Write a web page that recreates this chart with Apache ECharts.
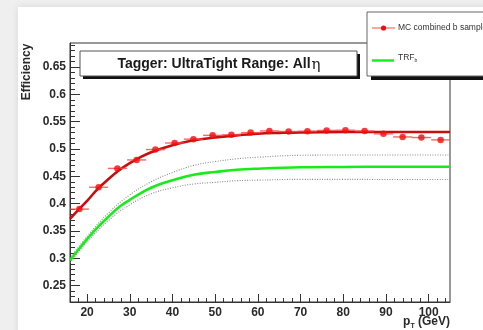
<!DOCTYPE html>
<html>
<head>
<meta charset="utf-8">
<script src="https://cdn.jsdelivr.net/npm/echarts@6/dist/echarts.min.js"></script>
<style>
  html, body { margin: 0; padding: 0; background: #efefef; overflow: hidden; }
  #card { position: absolute; left: 18px; top: 7px; width: 520px; height: 360px; background: #fff;
          box-shadow: 0 0 7px rgba(0,0,0,0.10); }
  #chart { position: absolute; left: 0; top: 0; width: 483px; height: 330px; }
</style>
</head>
<body>
<div id="card"></div>
<div id="chart"></div>
<script>
// Measured b-tagging efficiency per pT bin (bin centre, efficiency, half bin width)
const binCenters = [18.2, 22.7, 27.1, 31.6, 36.0, 40.5, 44.9, 49.4, 53.8, 58.3,
                    62.7, 67.2, 71.6, 76.1, 80.5, 85.0, 89.4, 93.9, 98.3, 102.8];
const mcEff = [0.390, 0.430, 0.4645, 0.480, 0.499, 0.511, 0.518, 0.525, 0.526, 0.530,
               0.533, 0.532, 0.5326, 0.534, 0.5344, 0.533, 0.5277, 0.5221, 0.521, 0.5167];
const binHalfWidth = [2.225, 2.225, 2.225, 2.225, 2.225, 2.225, 2.225, 2.225, 2.225, 2.225,
                      2.225, 2.225, 2.225, 2.225, 2.225, 2.225, 2.225, 2.225, 2.225, 2.225];

// Fit to the MC sample
const fitPt  = [16, 18, 20, 22.5, 25, 27.5, 30, 32.5, 35, 37.5, 40, 45, 50, 55, 60, 65, 70, 80, 90, 105];
const fitEff = [0.372, 0.389, 0.405, 0.427, 0.445, 0.461, 0.474, 0.485, 0.494, 0.501,
                0.507, 0.516, 0.521, 0.525, 0.528, 0.5295, 0.5305, 0.531, 0.531, 0.531];

// TRF_b prediction with its uncertainty band
const trfPt   = [16, 18, 20, 22.5, 25, 27.5, 30, 32.5, 35, 37.5, 40, 45, 50, 55, 60, 70, 80, 90, 105];
const trfEff  = [0.296, 0.316, 0.335, 0.357, 0.376, 0.394, 0.407, 0.419, 0.429, 0.437,
                 0.443, 0.453, 0.458, 0.462, 0.464, 0.4665, 0.4672, 0.4675, 0.4676];
const bandPt   = [16, 20, 25, 30, 35, 40, 45, 50, 55, 60, 70, 80, 90, 105];
const bandUp   = [0.300, 0.340, 0.383, 0.416, 0.440, 0.457, 0.470, 0.477, 0.482, 0.485, 0.4885, 0.489, 0.489, 0.4891];
const bandDown = [0.292, 0.330, 0.369, 0.398, 0.418, 0.429, 0.436, 0.439, 0.442, 0.443, 0.4445, 0.4444, 0.4443, 0.4443];

// Axis ticks
const xMajorTicks = [20, 30, 40, 50, 60, 70, 80, 90, 100];
const xMinorTicks = [16, 18, 22, 24, 26, 28, 32, 34, 36, 38, 42, 44, 46, 48, 52, 54, 56, 58,
                     62, 64, 66, 68, 72, 74, 76, 78, 82, 84, 86, 88, 92, 94, 96, 98, 102, 104];
const yMajorTicks = [0.25, 0.3, 0.35, 0.4, 0.45, 0.5, 0.55, 0.6, 0.65];
const yMinorTicks = [0.23, 0.24, 0.26, 0.27, 0.28, 0.29, 0.31, 0.32, 0.33, 0.34, 0.36, 0.37, 0.38, 0.39,
                     0.41, 0.42, 0.43, 0.44, 0.46, 0.47, 0.48, 0.49, 0.51, 0.52, 0.53, 0.54,
                     0.56, 0.57, 0.58, 0.59, 0.61, 0.62, 0.63, 0.64, 0.66, 0.67, 0.68, 0.69];
const X_MIN = 16, X_MAX = 105, Y_MIN = 0.22, Y_MAX = 0.694;

const FONT = '"Liberation Sans", Arial, Helvetica, sans-serif';
const AXIS_COLOR = '#333';

const pairs = (xs, ys) => xs.map((x, i) => [x, ys[i]]);

const chart = echarts.init(document.getElementById('chart'), null, { renderer: 'canvas' });

const baseX = {
  type: 'value', min: X_MIN, max: X_MAX, position: 'bottom', offset: 0,
  splitLine: { show: false }
};
const baseY = {
  type: 'value', min: Y_MIN, max: Y_MAX, position: 'left', offset: 0,
  splitLine: { show: false }
};

chart.setOption({
  backgroundColor: 'transparent',
  animation: false,
  grid: {
    left: 70, top: 43, width: 380, height: 259,
    show: true, borderColor: AXIS_COLOR, borderWidth: 1, backgroundColor: 'transparent',
    outerBoundsMode: 'none', containLabel: false
  },
  xAxis: [
    Object.assign({}, baseX, {
      axisLine: { show: true, lineStyle: { color: AXIS_COLOR, width: 1 } },
      axisTick: { show: true, inside: true, length: 8, customValues: xMajorTicks,
                  lineStyle: { color: AXIS_COLOR, width: 1 } },
      axisLabel: { show: true, customValues: xMajorTicks, margin: 5,
                   fontFamily: FONT, fontWeight: 'bold', fontSize: 12, color: '#2a2a2a' }
    }),
    Object.assign({}, baseX, {
      axisLine: { show: false },
      axisTick: { show: true, inside: true, length: 4, customValues: xMinorTicks,
                  lineStyle: { color: AXIS_COLOR, width: 1 } },
      axisLabel: { show: false }
    })
  ],
  yAxis: [
    Object.assign({}, baseY, {
      axisLine: { show: true, lineStyle: { color: AXIS_COLOR, width: 1 } },
      axisTick: { show: true, inside: true, length: 10, customValues: yMajorTicks,
                  lineStyle: { color: AXIS_COLOR, width: 1 } },
      axisLabel: { show: true, customValues: yMajorTicks, margin: 4,
                   fontFamily: FONT, fontWeight: 'bold', fontSize: 12, color: '#2a2a2a' }
    }),
    Object.assign({}, baseY, {
      axisLine: { show: false },
      axisTick: { show: true, inside: true, length: 5, customValues: yMinorTicks,
                  lineStyle: { color: AXIS_COLOR, width: 1 } },
      axisLabel: { show: false }
    })
  ],
  series: [
    {
      name: 'TRF band up', type: 'line', xAxisIndex: 0, yAxisIndex: 0,
      data: pairs(bandPt, bandUp), smooth: 0.4, showSymbol: false, silent: true,
      lineStyle: { color: '#8a8a8a', width: 1.1, type: [1, 1.5] }, z: 2
    },
    {
      name: 'TRF band down', type: 'line', xAxisIndex: 0, yAxisIndex: 0,
      data: pairs(bandPt, bandDown), smooth: 0.4, showSymbol: false, silent: true,
      lineStyle: { color: '#8a8a8a', width: 1.1, type: [1, 1.5] }, z: 2
    },
    {
      name: 'TRFb', type: 'line', xAxisIndex: 0, yAxisIndex: 0,
      data: pairs(trfPt, trfEff), smooth: 0.4, showSymbol: false,
      lineStyle: { color: '#18ec18', width: 2.6 }, z: 3
    },
    {
      name: 'fit', type: 'line', xAxisIndex: 0, yAxisIndex: 0,
      data: pairs(fitPt, fitEff), smooth: 0.4, showSymbol: false,
      lineStyle: { color: '#c80e0e', width: 2.6 }, z: 4
    },
    {
      name: 'bin width', type: 'custom', xAxisIndex: 0, yAxisIndex: 0,
      data: binCenters.map((x, i) => [x, mcEff[i], binHalfWidth[i]]),
      renderItem: function (params, api) {
        const x = api.value(0), y = api.value(1), dx = api.value(2);
        const a = api.coord([x - dx, y]);
        const b = api.coord([x + dx, y]);
        return {
          type: 'line',
          shape: { x1: a[0], y1: a[1], x2: b[0], y2: b[1] },
          style: { stroke: '#ff4a4a', lineWidth: 1.4, opacity: 0.85 }
        };
      },
      z: 5
    },
    {
      name: 'MC combined b sample', type: 'scatter', xAxisIndex: 0, yAxisIndex: 0,
      data: pairs(binCenters, mcEff), symbol: 'circle', symbolSize: 6.5,
      itemStyle: { color: '#f20c0c' }, z: 6
    }
  ],
  graphic: [
    // y-axis title
    {
      type: 'text', x: 27, y: 72, rotation: Math.PI / 2,
      style: { text: 'Efficiency', font: 'bold 12px ' + FONT, fill: '#2a2a2a',
               align: 'center', verticalAlign: 'middle' }
    },
    // x-axis title
    {
      type: 'text', x: 450, y: 322,
      style: {
        text: '{p|p}{s|T} {p|(GeV)}', align: 'right', verticalAlign: 'middle',
        rich: {
          p: { font: 'bold 12px ' + FONT, fill: '#2a2a2a' },
          s: { font: 'bold 7px ' + FONT, fill: '#2a2a2a', padding: [8, 0, 0, 0] }
        }
      }
    },
    // title box with shadow
    { type: 'rect', shape: { x: 83, y: 54, width: 277, height: 25 }, style: { fill: '#111' }, z: 10 },
    { type: 'rect', shape: { x: 80, y: 51, width: 277, height: 25 },
      style: { fill: '#fff', stroke: '#555', lineWidth: 1 }, z: 11 },
    {
      type: 'text', x: 219, y: 64, z: 12,
      style: {
        text: '{b|Tagger: UltraTight Range: All}{e|η}', align: 'center', verticalAlign: 'middle',
        rich: {
          b: { font: 'bold 14px ' + FONT, fill: '#1a1a1a' },
          e: { font: '15px "DejaVu Serif", "Liberation Serif", serif', fill: '#1a1a1a', padding: [3, 0, 0, 1] }
        }
      }
    },
    // legend box with shadow
    { type: 'rect', shape: { x: 371, y: 16, width: 140, height: 64 }, style: { fill: '#111' }, z: 10 },
    { type: 'rect', shape: { x: 367, y: 12, width: 140, height: 64 },
      style: { fill: '#fff', stroke: '#666', lineWidth: 1 }, z: 11 },
    { type: 'line', shape: { x1: 372, y1: 28, x2: 395, y2: 28 },
      style: { stroke: '#ff6a6a', lineWidth: 1.2 }, z: 12 },
    { type: 'circle', shape: { cx: 383.5, cy: 28, r: 2.6 }, style: { fill: '#f20c0c' }, z: 13 },
    { type: 'text', x: 398, y: 28, z: 12,
      style: { text: 'MC combined b sample', font: '8.5px ' + FONT, fill: '#333', verticalAlign: 'middle' } },
    { type: 'line', shape: { x1: 372, y1: 60.5, x2: 394, y2: 60.5 },
      style: { stroke: '#18ec18', lineWidth: 2.4 }, z: 12 },
    { type: 'text', x: 398, y: 58, z: 12,
      style: {
        text: '{t|TRF}{s|b}', verticalAlign: 'middle',
        rich: {
          t: { font: '8.5px ' + FONT, fill: '#333' },
          s: { font: '5px ' + FONT, fill: '#333', padding: [5, 0, 0, 0] }
        }
      }
    }
  ]
});
</script>
</body>
</html>
